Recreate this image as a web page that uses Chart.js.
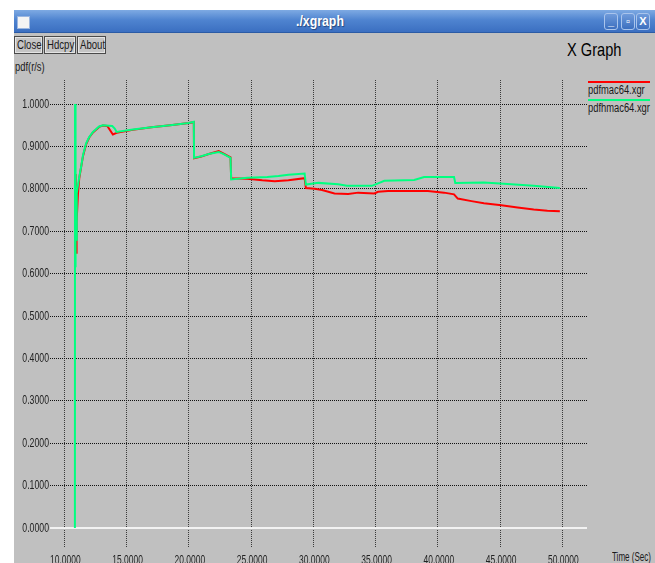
<!DOCTYPE html>
<html>
<head>
<meta charset="utf-8">
<title>xgraph</title>
<script src="https://cdn.jsdelivr.net/npm/chart.js@4.4.0/dist/chart.umd.min.js"></script>
<style>
  body { margin:0; width:655px; height:563px; overflow:hidden; background:#fff; position:relative;
         font-family:'Liberation Sans',Arial,sans-serif; color:#1a1a1a; }
  #win { position:absolute; left:14px; top:10px; width:641px; height:553px; background:#c0c0c0; }
  #titlebar { position:absolute; left:14px; top:10px; width:641px; height:23px; box-sizing:border-box;
              background:linear-gradient(#7eaae3,#4f84d0 45%,#3b6fc1); border-bottom:1px solid #2b5ba5; }
  #titlebar .icon { position:absolute; left:3px; top:6px; width:11px; height:11px; background:#f4f4f4; border:1px solid #9bb6e0; }
  #titlebar .txt { position:absolute; left:282px; top:3px; font:bold 14px 'Liberation Sans',sans-serif; color:#fff;
                   text-shadow:1px 1px 1px #24467c; transform:scaleX(0.88); transform-origin:0 0; }
  .wbtn { position:absolute; top:3px; width:14px; height:17px; box-sizing:border-box; border:1px solid #a9c4ec;
          border-radius:3px; background:linear-gradient(#6f9bdb,#3c6fbf); color:#fff; font:bold 11px 'Liberation Sans',sans-serif;
          text-align:center; line-height:15px; }
  .btn { position:absolute; top:36px; height:18px; box-sizing:border-box; border:1px solid #4a4a4a;
         box-shadow:inset 0 0 0 1px #e4e4e4; background:#c4c4c4; }
  .btn span { position:absolute; left:2px; top:1px; font-size:12px; line-height:15px; transform:scaleX(0.8); transform-origin:0 0; white-space:nowrap; }
  .lbl { position:absolute; white-space:nowrap; font-size:12px; transform:scaleX(0.78); transform-origin:0 0; }
  .key { position:absolute; left:588px; width:62px; height:2px; }
  canvas { position:absolute; left:0; top:0; }
</style>
</head>
<body>
<div id="win"></div>
<div id="titlebar">
  <div class="icon"></div>
  <div class="txt">./xgraph</div>
  <div class="wbtn" style="left:590px;">_</div>
  <div class="wbtn" style="left:607px;">&#9643;</div>
  <div class="wbtn" style="left:622px;">X</div>
</div>
<div class="btn" style="left:14px;width:29px;"><span>Close</span></div>
<div class="btn" style="left:44px;width:32px;"><span>Hdcpy</span></div>
<div class="btn" style="left:77px;width:29px;"><span>About</span></div>
<div class="lbl" style="left:15px;top:60px;">pdf(r/s)</div>
<div class="lbl" style="left:567px;top:39px;font-size:19px;color:#000;transform:scaleX(0.77);">X Graph</div>
<div class="key" style="top:81px;background:#ff0000;"></div>
<div class="lbl" style="left:588px;top:83px;">pdfmac64.xgr</div>
<div class="key" style="top:99px;background:#00ff80;"></div>
<div class="lbl" style="left:588px;top:101px;">pdfhmac64.xgr</div>
<div class="lbl" style="left:612px;top:550px;transform:scaleX(0.67);">Time (Sec)</div>
<canvas id="graph" width="655" height="563"></canvas>

<script>
// pdfhmac64.xgr (green)
const hmacTime = [10.85,10.86,10.88,10.90,10.93,10.96,11.00,11.20,11.35,11.50,11.75,12.00,12.30,12.80,13.10,13.85,14.05,14.20,15.50,17.00,
  18.50,20.00,20.40,20.42,21.00,21.60,22.40,22.80,23.35,23.40,24.70,26.30,27.20,28.00,29.30,29.40,30.40,32.00,32.70,34.70,
  35.20,35.70,38.10,38.90,41.30,41.40,43.70,45.30,47.70,49.80];
const hmacPdf = [0.000,1.000,0.640,0.615,0.700,0.680,0.790,0.828,0.852,0.879,0.907,0.922,0.934,0.947,0.950,0.948,0.942,0.934,0.940,0.945,
  0.950,0.955,0.958,0.873,0.877,0.882,0.887,0.882,0.873,0.822,0.826,0.828,0.830,0.833,0.836,0.810,0.814,0.811,0.807,0.807,
  0.813,0.819,0.821,0.828,0.828,0.814,0.815,0.812,0.807,0.802];

// pdfmac64.xgr (red)
const macTime = [10.88,10.89,10.91,10.93,10.95,10.97,11.00,11.10,11.20,11.35,11.50,11.75,12.00,12.30,12.80,13.10,13.45,13.90,14.20,15.50,
  17.00,18.50,20.00,20.40,20.42,21.00,21.60,22.40,22.80,23.35,23.40,24.70,25.90,26.90,28.00,29.30,29.40,30.10,30.70,31.70,
  32.80,33.60,34.90,35.20,36.00,39.20,40.50,41.30,41.60,42.70,43.70,45.10,46.40,47.70,48.80,49.80];
const macPdf = [0.835,0.780,0.710,0.686,0.700,0.647,0.720,0.790,0.825,0.851,0.877,0.905,0.921,0.933,0.946,0.949,0.948,0.928,0.932,0.939,
  0.945,0.950,0.955,0.957,0.872,0.876,0.882,0.889,0.883,0.874,0.825,0.824,0.820,0.818,0.820,0.825,0.802,0.800,0.797,0.789,
  0.788,0.791,0.789,0.793,0.795,0.795,0.791,0.787,0.777,0.771,0.766,0.761,0.756,0.751,0.748,0.747];

const timeTicks = [10,15,20,25,30,35,40,45,50];
const pdfTicks = [0,0.1,0.2,0.3,0.4,0.5,0.6,0.7,0.8,0.9,1.0];

function toPoints(xs, ys) {
  return xs.map((x, i) => ({x: x, y: ys[i]}));
}

// white zero axis, drawn under the curves
const zeroLine = {
  id: 'zeroLine',
  beforeDatasetsDraw(chart) {
    const {ctx, chartArea, scales} = chart;
    const y = Math.round(scales.y.getPixelForValue(0));
    ctx.save();
    ctx.strokeStyle = '#f2f2f2';
    ctx.lineWidth = 2;
    ctx.beginPath();
    ctx.moveTo(chartArea.left, y);
    ctx.lineTo(chartArea.right, y);
    ctx.stroke();
    ctx.restore();
  }
};

// xgraph uses a narrow helvetica, so squeeze the tick labels sideways
const narrowTicks = {
  id: 'narrowTicks',
  afterDraw(chart) {
    const {ctx, scales} = chart;
    ctx.save();
    ctx.fillStyle = '#222';
    ctx.font = "13px 'Liberation Sans', Arial, sans-serif";
    ctx.textAlign = 'right';
    ctx.textBaseline = 'middle';
    scales.y.ticks.forEach(t => {
      ctx.save();
      ctx.translate(49, scales.y.getPixelForValue(t.value));
      ctx.scale(0.67, 1);
      ctx.fillText(t.value.toFixed(4), 0, 0);
      ctx.restore();
    });
    ctx.textAlign = 'center';
    ctx.textBaseline = 'top';
    scales.x.ticks.forEach(t => {
      ctx.save();
      ctx.translate(scales.x.getPixelForValue(t.value) + 1, 553.5);
      ctx.scale(0.65, 1);
      ctx.fillText(t.value.toFixed(4), 0, 0);
      ctx.restore();
    });
    ctx.restore();
  }
};

new Chart(document.getElementById('graph'), {
  type: 'scatter',
  data: {
    datasets: [
      {
        label: 'pdfhmac64.xgr',
        data: toPoints(hmacTime, hmacPdf),
        showLine: true,
        borderColor: 'rgb(0,255,128)',
        borderWidth: 2,
        pointRadius: 0,
        order: 0
      },
      {
        label: 'pdfmac64.xgr',
        data: toPoints(macTime, macPdf),
        showLine: true,
        borderColor: 'rgb(255,0,0)',
        borderWidth: 2,
        pointRadius: 0,
        order: 1
      }
    ]
  },
  options: {
    responsive: false,
    animation: false,
    layout: { padding: { left: 0, top: 80, right: 68, bottom: 0 } },
    plugins: { legend: { display: false }, tooltip: { enabled: false } },
    scales: {
      x: {
        type: 'linear',
        min: 8.85,
        max: 51.98,
        afterBuildTicks: s => { s.ticks = timeTicks.map(v => ({value: v})); },
        afterFit: s => { s.height = 15; },
        grid: { color: '#3a3a3a', drawTicks: false },
        border: { display: false, dash: [1, 1] },
        ticks: { display: false }
      },
      y: {
        type: 'linear',
        min: -0.047,
        max: 1.0566,
        afterBuildTicks: s => { s.ticks = pdfTicks.map(v => ({value: v})); },
        afterFit: s => { s.width = 50; },
        grid: { color: ctx => (ctx.tick && ctx.tick.value === 0) ? 'rgba(0,0,0,0)' : '#111', drawTicks: false },
        border: { display: false, dash: [1, 1] },
        ticks: { display: false }
      }
    }
  },
  plugins: [zeroLine, narrowTicks]
});
</script>
</body>
</html>
